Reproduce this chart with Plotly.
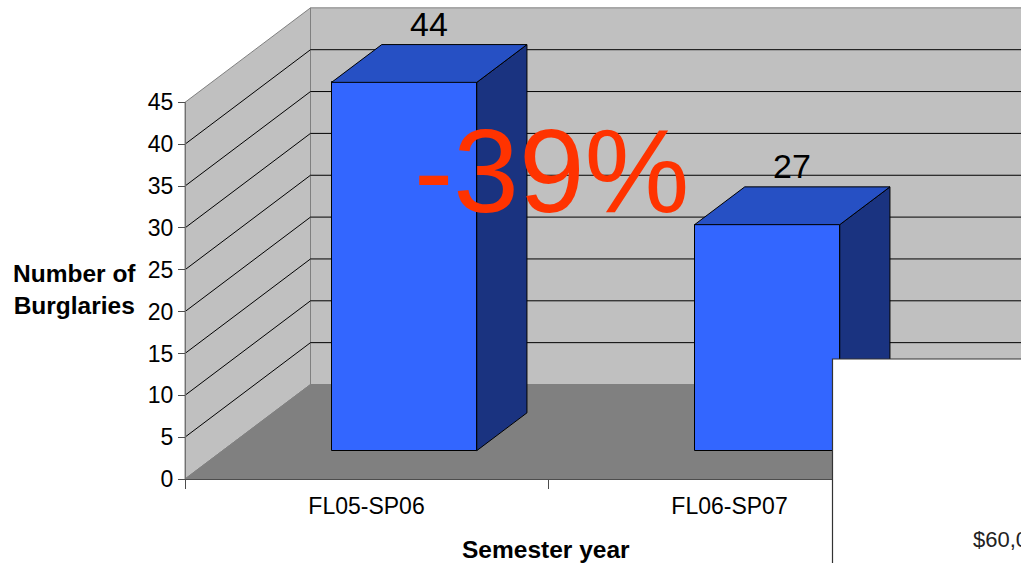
import numpy as np
import plotly.graph_objects as go

# ---------------- data ----------------
categories = ["FL05-SP06", "FL06-SP07"]
burglaries = [44, 27]
y_ticks = [0, 5, 10, 15, 20, 25, 30, 35, 40, 45]
change_label = "-39%"
x_title = "Semester year"
y_title = "Number of<br>Burglaries"
overlay_text = "$60,0"

# ---------------- geometry (styles / layout) ----------------
W, H = 1021, 563
X0_PX = 185      # front value axis (pixels from left)
Y0_PX = 479      # zero line (pixels from top)
CAT_PX = 363     # pixels per category
UNIT_PX = 8.37   # pixels per value unit
DEPTH_DX_PX = 125.5
DEPTH_DY_PX = 94.5

DX = DEPTH_DX_PX / CAT_PX
DY = DEPTH_DY_PX / UNIT_PX
YMAX = y_ticks[-1]
XL = -0.5
XR = 3.0
FB, BB = 0.3, 0.7     # bar depth (front / back fractions)
BW = 0.4              # bar width (category units)

FONT = "Liberation Sans, Arial, sans-serif"
WALL = "#C0C0C0"
FLOOR = "#808080"
EDGE = "#808080"
FRONT = "#3366FF"
TOP = "#2650C4"
SIDE = "#1A3380"

x_range = [-0.5 - X0_PX / CAT_PX, -0.5 + (W - X0_PX) / CAT_PX]
y_range = [-(H - Y0_PX) / UNIT_PX, Y0_PX / UNIT_PX]


def path(pts, close=True):
    s = "M " + " L ".join(f"{x},{y}" for x, y in pts)
    return s + (" Z" if close else "")


shapes = []
# side wall
shapes.append(dict(type="path", xref="x", yref="y", layer="below",
                   path=path([(XL, 0), (XL + DX, DY), (XL + DX, YMAX + DY), (XL, YMAX)]),
                   fillcolor=WALL, line=dict(color=EDGE, width=1)))
# back wall
shapes.append(dict(type="path", xref="x", yref="y", layer="below",
                   path=path([(XL + DX, DY), (XR, DY), (XR, YMAX + DY), (XL + DX, YMAX + DY)]),
                   fillcolor=WALL, line=dict(color=EDGE, width=1)))
# floor
shapes.append(dict(type="path", xref="x", yref="y", layer="below",
                   path=path([(XL, 0), (XL + DX, DY), (XR, DY), (XR, 0)]),
                   fillcolor=FLOOR, line=dict(color=EDGE, width=1)))
# gridlines
for v in y_ticks[1:-1]:
    shapes.append(dict(type="path", xref="x", yref="y", layer="below",
                       path=path([(XL, v), (XL + DX, v + DY), (XR, v + DY)], close=False),
                       line=dict(color="#000000", width=1)))

# white overlay box (bottom right)
shapes.append(dict(type="rect", xref="paper", yref="paper", layer="above",
                   x0=832.5 / W, x1=1.05, y0=-0.1, y1=(H - 359) / H,
                   fillcolor="white", line=dict(color="#333333", width=1.2)))

fig = go.Figure()

idx = np.arange(len(categories), dtype=float)
vals = np.array(burglaries, dtype=float)
xf = idx + FB * DX
xb = idx + BB * DX
yf = FB * DY
yb = BB * DY

# side faces
for i in range(len(categories)):
    v = vals[i]
    fig.add_trace(go.Scatter(
        x=[xf[i] + BW / 2, xb[i] + BW / 2, xb[i] + BW / 2, xf[i] + BW / 2, xf[i] + BW / 2],
        y=[yf, yb, v + yb, v + yf, yf],
        mode="lines", fill="toself", fillcolor=SIDE,
        line=dict(color="#000000", width=1), hoverinfo="skip", showlegend=False))
# top faces
for i in range(len(categories)):
    v = vals[i]
    fig.add_trace(go.Scatter(
        x=[xf[i] - BW / 2, xf[i] + BW / 2, xb[i] + BW / 2, xb[i] - BW / 2, xf[i] - BW / 2],
        y=[v + yf, v + yf, v + yb, v + yb, v + yf],
        mode="lines", fill="toself", fillcolor=TOP,
        line=dict(color="#000000", width=1), hoverinfo="skip", showlegend=False))
# front faces
fig.add_trace(go.Bar(x=xf, y=vals, base=yf, width=BW,
                     marker=dict(color=FRONT, line=dict(color="#000000", width=1)),
                     hoverinfo="skip", showlegend=False))

# invisible trace carrying the category / value axes
fig.add_trace(go.Scatter(x=categories, y=burglaries, xaxis="x2", yaxis="y2",
                         mode="markers", marker=dict(opacity=0),
                         hoverinfo="skip", showlegend=False))

annotations = []
# value labels
for i in range(len(categories)):
    annotations.append(dict(x=(xf[i] + xb[i]) / 2, y=vals[i] + yb, xref="x", yref="y",
                            text=str(burglaries[i]), showarrow=False,
                            xanchor="center", yanchor="bottom", yshift=0,
                            font=dict(family=FONT, size=34, color="#000000")))
# big change label
annotations.append(dict(x=551 / W, y=(H - 171) / H, xref="paper", yref="paper",
                        text=change_label, showarrow=False, xanchor="center", yanchor="middle",
                        font=dict(family=FONT, size=118, color="#FF3300")))
# axis titles
annotations.append(dict(x=546 / W, y=(H - 549) / H, xref="paper", yref="paper",
                        text="<b>" + x_title + "</b>", showarrow=False,
                        xanchor="center", yanchor="middle",
                        font=dict(family=FONT, size=24.5, color="#000000")))
annotations.append(dict(x=74 / W, y=(H - 289) / H, xref="paper", yref="paper",
                        text="<b>" + y_title + "</b>", showarrow=False,
                        xanchor="center", yanchor="middle", align="center",
                        font=dict(family=FONT, size=24.5, color="#000000")))
# overlay text
annotations.append(dict(x=971 / W, y=(H - 554) / H, xref="paper", yref="paper",
                        text=overlay_text, showarrow=False,
                        xanchor="left", yanchor="bottom",
                        font=dict(family=FONT, size=22, color="#222222")))

fig.update_layout(
    template="none",
    width=W, height=H, autosize=False,
    margin=dict(l=0, r=0, t=0, b=0, pad=0, autoexpand=False),
    paper_bgcolor="white", plot_bgcolor="rgba(0,0,0,0)",
    hovermode=False, showlegend=False, bargap=0,
    font=dict(family=FONT, size=23, color="#000000"),
    xaxis=dict(domain=[0, 1], range=x_range, visible=False, fixedrange=True, automargin=False),
    yaxis=dict(domain=[0, 1], range=y_range, visible=False, fixedrange=True, automargin=False),
    xaxis2=dict(type="category", domain=[X0_PX / W, 1],
                range=[-0.5, -0.5 + (W - X0_PX) / CAT_PX],
                anchor="free", position=(H - Y0_PX) / H, automargin=False,
                tickson="boundaries", ticks="outside", ticklen=9, tickcolor="#4d4d4d",
                ticklabelstandoff=6,
                showline=True, linecolor="#4d4d4d", linewidth=1,
                showgrid=False, zeroline=False, fixedrange=True,
                tickfont=dict(family=FONT, size=23, color="#000000")),
    yaxis2=dict(domain=[(H - Y0_PX) / H, (H - (Y0_PX - YMAX * UNIT_PX)) / H],
                range=[0, YMAX], anchor="free", position=X0_PX / W, automargin=False,
                tickvals=y_ticks, ticks="outside", ticklen=7, tickcolor="#4d4d4d",
                showline=True, linecolor="#707070", linewidth=1,
                showgrid=False, zeroline=False, fixedrange=True,
                tickfont=dict(family=FONT, size=23, color="#000000")),
    shapes=shapes,
    annotations=annotations,
)

fig.write_html("out.html", config={"responsive": False, "displayModeBar": False},
               post_script="document.body.style.margin='0';document.body.style.overflow='hidden';")
